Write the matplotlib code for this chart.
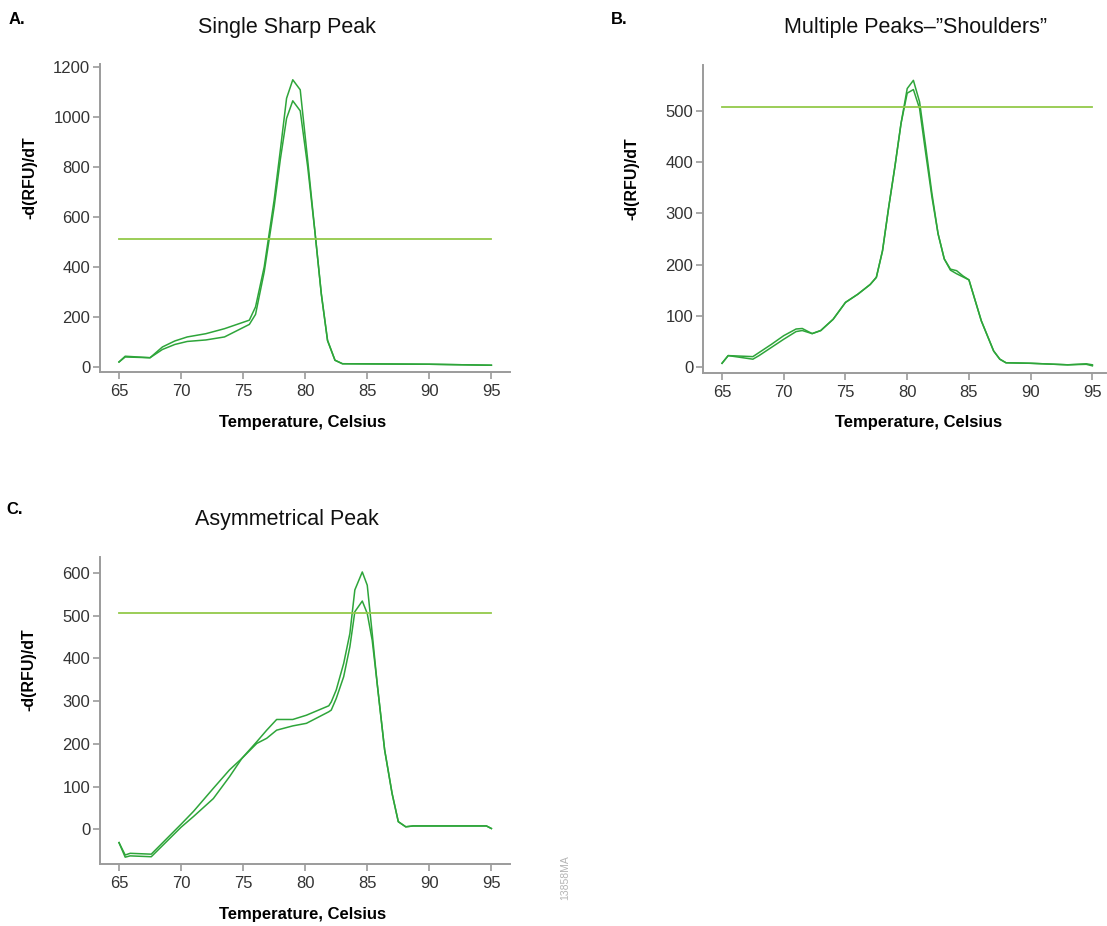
import matplotlib
matplotlib.use("Agg")
import matplotlib.pyplot as plt

plt.rcParams["font.family"] = ["Liberation Sans", "DejaVu Sans"]

# ---- data ----
a_temp = [65, 65.5, 67.5, 68.5, 69.5, 70.5, 72, 73.5, 75.5, 76, 76.7, 77.5, 78, 78.5, 79, 79.6,
          80.2, 80.8, 81.3, 81.8, 82.4, 83, 90, 95]
a_high = [20, 43, 37, 80, 104, 120, 133, 153, 187, 240, 400, 667, 867, 1073, 1147, 1107,
          827, 533, 293, 107, 27, 13, 11, 7]
a_low = [20, 40, 37, 70, 90, 102, 108, 120, 170, 210, 380, 640, 830, 993, 1063, 1023,
         800, 533, 290, 105, 27, 13, 11, 7]

b_temp = [65, 65.5, 67.5, 68, 69, 70, 71, 71.5, 72.3, 73, 74, 75, 76, 77, 77.5, 78,
          78.5, 79, 79.5, 80, 80.5, 81, 81.5, 82, 82.5, 83, 83.5, 84, 84.5, 85, 86, 87,
          87.5, 88, 90, 93, 94.5, 95]
b_one = [7, 22, 20, 28, 44, 61, 74, 75, 65, 71, 93, 126, 142, 161, 175, 227,
         312, 391, 476, 544, 560, 518, 430, 339, 260, 211, 191, 188, 178, 170, 90, 31,
         15, 8, 7, 4, 6, 4]
b_two = [7, 22, 15, 22, 38, 54, 69, 71, 65, 71, 93, 126, 142, 161, 175, 227,
         312, 391, 476, 535, 542, 505, 417, 332, 260, 211, 189, 182, 176, 170, 90, 31,
         15, 8, 7, 4, 5, 2]

c_temp = [65, 65.5, 65.9, 67.6, 70, 71, 72.6, 73.9, 74.9, 76.1, 76.9, 77.7, 79, 80.1, 81.9,
          82.1, 82.5, 83.1, 83.6, 84, 84.6, 85, 85.4, 85.8, 86.4, 87, 87.5, 88.1, 88.7,
          94.6, 95]
c_one = [-31, -65, -62, -64, 5, 30, 72, 123, 166, 205, 232, 257, 257, 267, 289,
         298, 326, 388, 458, 560, 602, 571, 458, 341, 186, 84, 18, 6, 8,
         8, 2]
c_two = [-31, -60, -56, -58, 12, 42, 96, 139, 166, 201, 213, 232, 242, 248, 275,
         279, 306, 357, 427, 509, 534, 505, 442, 341, 186, 84, 18, 6, 8,
         8, 2]

threshold = [510, 508, 507]
titles = ["Single Sharp Peak", "Multiple Peaks\u2013\u201dShoulders\u201d", "Asymmetrical Peak"]
letters = ["A.", "B.", "C."]

W, H = 1107, 926
CURVE = "#2ea53a"
THRESH = "#93c94a"
SPINE = "#9b9b9b"


def fx(x):
    return x / W


def fy(y):
    return 1 - y / H


fig = plt.figure(figsize=(W / 100, H / 100), dpi=100)

# axes boxes in pixels: left, top, right, bottom
boxes = [(100, 64, 510, 372), (703, 65, 1106, 373), (100, 557, 510, 864)]
xlims = [(63.47, 96.5), (63.46, 96.1), (63.47, 96.5)]
ylims = [(-20, 1210), (-12, 590), (-81, 637)]
yticks = [[0, 200, 400, 600, 800, 1000, 1200], [0, 100, 200, 300, 400, 500],
          [0, 100, 200, 300, 400, 500, 600]]
series = [(a_temp, a_high, a_low), (b_temp, b_one, b_two), (c_temp, c_one, c_two)]
title_pos = [(287, 28), (916, 28), (287, 520)]
letter_pos = [(17, 20), (619, 19), (15, 510)]
ylab_pos = [(30, 178), (632, 179), (29, 670)]
xlab_pos = [(303, 423), (919, 423), (303, 915)]

for i in range(3):
    l, t, r, b = boxes[i]
    ax = fig.add_axes([fx(l), fy(b), (r - l) / W, (b - t) / H])
    temp, s1, s2 = series[i]
    ax.plot(temp, s1, color=CURVE, lw=1.1)
    ax.plot(temp, s2, color=CURVE, lw=1.1)
    ax.plot([65, 95], [threshold[i], threshold[i]], color=THRESH, lw=1.3)
    ax.set_xlim(*xlims[i])
    ax.set_ylim(*ylims[i])
    ax.set_xticks([65, 70, 75, 80, 85, 90, 95])
    ax.set_yticks(yticks[i])
    for side in ["top", "right"]:
        ax.spines[side].set_visible(False)
    for side in ["left", "bottom"]:
        ax.spines[side].set_color(SPINE)
        ax.spines[side].set_linewidth(1.4)
    ax.tick_params(colors=SPINE, labelcolor="#333333", labelsize=12, length=5, width=1.2)
    ax.tick_params(axis="y", pad=2)
    ax.patch.set_visible(False)

    fig.text(fx(title_pos[i][0]), fy(title_pos[i][1]), titles[i], ha="center", va="center",
             fontsize=15.5, color="#111111")
    fig.text(fx(letter_pos[i][0]), fy(letter_pos[i][1]), letters[i], ha="center", va="center",
             fontsize=12, fontweight="bold")
    fig.text(fx(ylab_pos[i][0]), fy(ylab_pos[i][1]), "-d(RFU)/dT", ha="center", va="center",
             rotation=90, fontsize=11.5, fontweight="bold")
    fig.text(fx(xlab_pos[i][0]), fy(xlab_pos[i][1]), "Temperature, Celsius", ha="center",
             va="center", fontsize=12, fontweight="bold")

fig.text(fx(565), fy(878), "13858MA", rotation=90, ha="center", va="center",
         fontsize=7.5, color="#b5b5b5")

fig.savefig("out.png", dpi=100)
